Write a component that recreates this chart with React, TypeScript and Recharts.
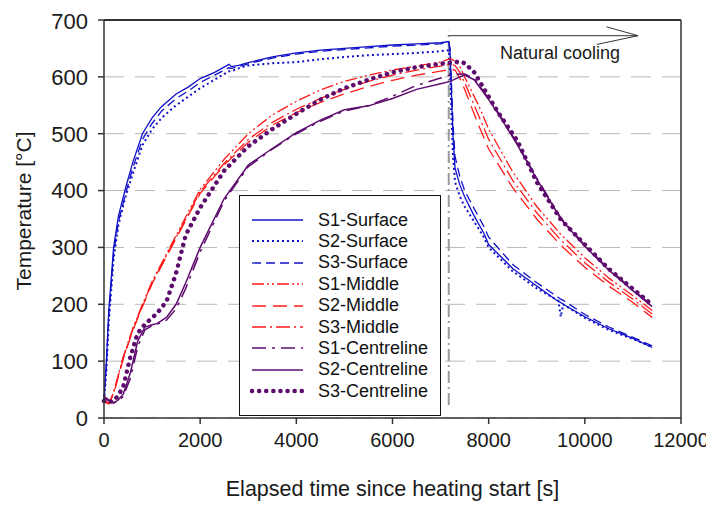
import { LineChart, Line, XAxis, YAxis, CartesianGrid, ReferenceLine, ReferenceDot } from 'recharts';

const FONT = '"Liberation Sans", Arial, sans-serif';
const BLUE = '#1010c8';
const RED = '#ff1a1a';
const PURPLE = '#5e0b6e';

// time stamps [s]
const surfaceTime = [0, 50, 100, 200, 300, 450, 600, 800, 1000, 1200, 1500, 1750, 2000, 2300, 2600, 2650, 2800, 3000, 3500, 4000, 4500, 5000, 5500, 6000, 6500, 7000, 7170, 7200, 7230, 7260, 7300, 7400, 7500, 7700, 7900, 8000, 8500, 9000, 9450, 9500, 9550, 10000, 10500, 11000, 11400];
const middleTime = [0, 100, 200, 400, 600, 800, 1000, 1400, 2000, 2500, 3000, 3500, 4000, 4500, 5000, 5500, 6000, 6500, 7000, 7200, 7300, 7400, 7500, 7800, 8000, 8500, 9000, 9500, 10000, 10500, 11000, 11400];
const centreTime = [0, 100, 200, 300, 400, 550, 700, 850, 1000, 1100, 1300, 1500, 1700, 2000, 2500, 3000, 3500, 4000, 4500, 5000, 5500, 6000, 6500, 7000, 7200, 7400, 7500, 7700, 8000, 8200, 8600, 9000, 9500, 10000, 10500, 11000, 11400];

// temperatures [°C]
const s1Surface = [30, 100, 190, 300, 355, 405, 450, 500, 528, 548, 570, 582, 597, 608, 622, 618, 620, 625, 635, 642, 647, 650, 653, 656, 658, 660, 662, 640, 560, 494, 440, 410, 389, 355, 325, 305, 263, 232, 205, 203, 200, 178, 157, 140, 124];
const s2Surface = [30, 85, 170, 280, 340, 390, 430, 480, 508, 528, 550, 565, 580, 595, 610, 610, 615, 620, 624, 626, 631, 635, 638, 640, 642, 645, 647, 610, 520, 460, 415, 390, 372, 345, 318, 300, 258, 228, 206, 178, 200, 176, 155, 139, 125];
const s3Surface = [30, 95, 180, 290, 345, 395, 440, 490, 518, 540, 562, 575, 590, 603, 616, 615, 618, 623, 633, 640, 645, 648, 651, 654, 656, 658, 660, 650, 580, 515, 460, 425, 400, 368, 337, 318, 270, 238, 212, 209, 207, 182, 160, 142, 127];

const s1Middle = [32, 25, 45, 108, 158, 200, 240, 305, 402, 455, 500, 533, 557, 577, 592, 603, 612, 619, 626, 632, 628, 618, 600, 548, 508, 433, 372, 323, 282, 246, 215, 189];
const s2Middle = [28, 25, 42, 104, 154, 196, 236, 300, 395, 445, 485, 515, 537, 555, 570, 583, 594, 603, 610, 613, 612, 598, 578, 513, 473, 405, 350, 304, 265, 232, 203, 177];
const s3Middle = [30, 26, 44, 106, 156, 198, 238, 302, 398, 448, 490, 520, 543, 562, 578, 592, 603, 612, 619, 622, 620, 608, 590, 530, 490, 418, 361, 313, 273, 239, 209, 183];

const s1Centre = [38, 32, 27, 30, 38, 70, 125, 155, 162, 165, 172, 192, 228, 292, 382, 442, 473, 500, 522, 540, 549, 566, 585, 598, 603, 605, 605, 597, 562, 537, 482, 422, 352, 304, 262, 226, 197];
const s2Centre = [35, 30, 26, 32, 42, 80, 135, 160, 164, 166, 177, 200, 238, 300, 386, 445, 474, 502, 524, 542, 549, 562, 578, 588, 592, 600, 603, 595, 560, 535, 480, 420, 350, 302, 260, 224, 196];
const s3Centre = [30, 28, 30, 40, 55, 108, 149, 165, 176, 184, 205, 255, 322, 370, 435, 478, 508, 535, 560, 580, 595, 608, 617, 623, 625, 627, 624, 608, 565, 537, 487, 415, 349, 305, 262, 227, 199];

const xTicks = [0, 2000, 4000, 6000, 8000, 10000, 12000];
const yTicks = [0, 100, 200, 300, 400, 500, 600, 700];

const zip = (t: number[], v: number[]) => t.map((x, i) => ({ t: x, v: v[i] }));

const series = [
  { name: 'S1-Surface', data: zip(surfaceTime, s1Surface), color: BLUE, dash: undefined, width: 1.3, cap: 'butt' },
  { name: 'S2-Surface', data: zip(surfaceTime, s2Surface), color: BLUE, dash: '2 3', width: 2, cap: 'butt' },
  { name: 'S3-Surface', data: zip(surfaceTime, s3Surface), color: BLUE, dash: '9 5', width: 1.3, cap: 'butt' },
  { name: 'S1-Middle', data: zip(middleTime, s1Middle), color: RED, dash: '12 3 2 3 2 3', width: 1.3, cap: 'butt' },
  { name: 'S2-Middle', data: zip(middleTime, s2Middle), color: RED, dash: '14 7', width: 1.3, cap: 'butt' },
  { name: 'S3-Middle', data: zip(middleTime, s3Middle), color: RED, dash: '14 4 2 4', width: 1.3, cap: 'butt' },
  { name: 'S1-Centreline', data: zip(centreTime, s1Centre), color: PURPLE, dash: '14 6 3 6', width: 1.5, cap: 'butt' },
  { name: 'S2-Centreline', data: zip(centreTime, s2Centre), color: PURPLE, dash: undefined, width: 1.5, cap: 'butt' },
  { name: 'S3-Centreline', data: zip(centreTime, s3Centre), color: PURPLE, dash: '0.1 7', width: 4.5, cap: 'round' },
];

function LegendBox() {
  return (
    <div style={{ position: 'absolute', left: 231, top: 187, width: 202, height: 221, border: '1.5px solid #111', background: '#fff', boxSizing: 'border-box' }}>
      {series.map((s, i) => (
        <div key={s.name} style={{ position: 'absolute', left: 0, top: 13 + i * 21.4, height: 22, display: 'flex', alignItems: 'center' }}>
          <svg width={78} height={22}>
            <line x1={12} x2={63} y1={11} y2={11} stroke={s.color} strokeWidth={s.width} strokeDasharray={s.dash} strokeLinecap={s.cap as any} />
          </svg>
          <span style={{ fontFamily: FONT, fontSize: 18, color: '#111', whiteSpace: 'nowrap' }}>{s.name}</span>
        </div>
      ))}
    </div>
  );
}

export default function App() {
  return (
    <div style={{ position: 'relative', width: 706, height: 500, fontFamily: FONT }}>
      <LineChart width={706} height={500} margin={{ top: 12, right: 33, left: 0, bottom: 0 }} style={{ overflow: 'visible' }}>
        <CartesianGrid vertical={false} stroke="#b8b8b8" strokeDasharray="20 11" />
        <XAxis
          type="number"
          dataKey="t"
          domain={[0, 12000]}
          ticks={xTicks}
          height={90}
          tickSize={6}
          tickMargin={9}
          stroke="#333"
          strokeWidth={1.5}
          tick={{ fill: '#1a1a1a', fontSize: 20, fontFamily: FONT }}
          label={{ value: 'Elapsed time since heating start [s]', position: 'center', dy: 25, fill: '#1a1a1a', fontSize: 21.5, fontFamily: FONT }}
        />
        <YAxis
          type="number"
          domain={[0, 700]}
          ticks={yTicks}
          width={96}
          tickSize={6}
          tickMargin={10}
          stroke="#333"
          strokeWidth={1.5}
          tick={{ fill: '#1a1a1a', fontSize: 22, fontFamily: FONT }}
          label={{ value: 'Temperature [°C]', angle: -90, position: 'center', dx: -32, dy: -8, fill: '#1a1a1a', fontSize: 21, fontFamily: FONT }}
        />
        <ReferenceLine y={700} stroke="#333" strokeWidth={2} />
        <ReferenceLine x={12000} stroke="#333" strokeWidth={1.5} />
        <ReferenceLine segment={[{ x: 7170, y: 23 }, { x: 7170, y: 681 }]} stroke="#9a9a9a" strokeWidth={2} strokeDasharray="12 4 2 4" />
        <ReferenceLine segment={[{ x: 7170, y: 672.4 }, { x: 11107, y: 672.4 }]} stroke="#333" strokeWidth={1} />
        <ReferenceLine segment={[{ x: 10450, y: 688 }, { x: 11107, y: 672.4 }]} stroke="#333" strokeWidth={1} />
        <ReferenceLine segment={[{ x: 10250, y: 657 }, { x: 11107, y: 672.4 }]} stroke="#333" strokeWidth={1} />
        <ReferenceDot x={9484} y={643} r={0} stroke="none" label={{ value: 'Natural cooling', position: 'center', fill: '#1a1a1a', fontSize: 18, fontFamily: FONT }} />
        {series.map((s) => (
          <Line
            key={s.name}
            data={s.data}
            dataKey="v"
            name={s.name}
            type="linear"
            stroke={s.color}
            strokeWidth={s.width}
            strokeDasharray={s.dash}
            strokeLinecap={s.cap as any}
            dot={false}
            activeDot={false}
            isAnimationActive={false}
          />
        ))}
      </LineChart>
      <LegendBox />
    </div>
  );
}
